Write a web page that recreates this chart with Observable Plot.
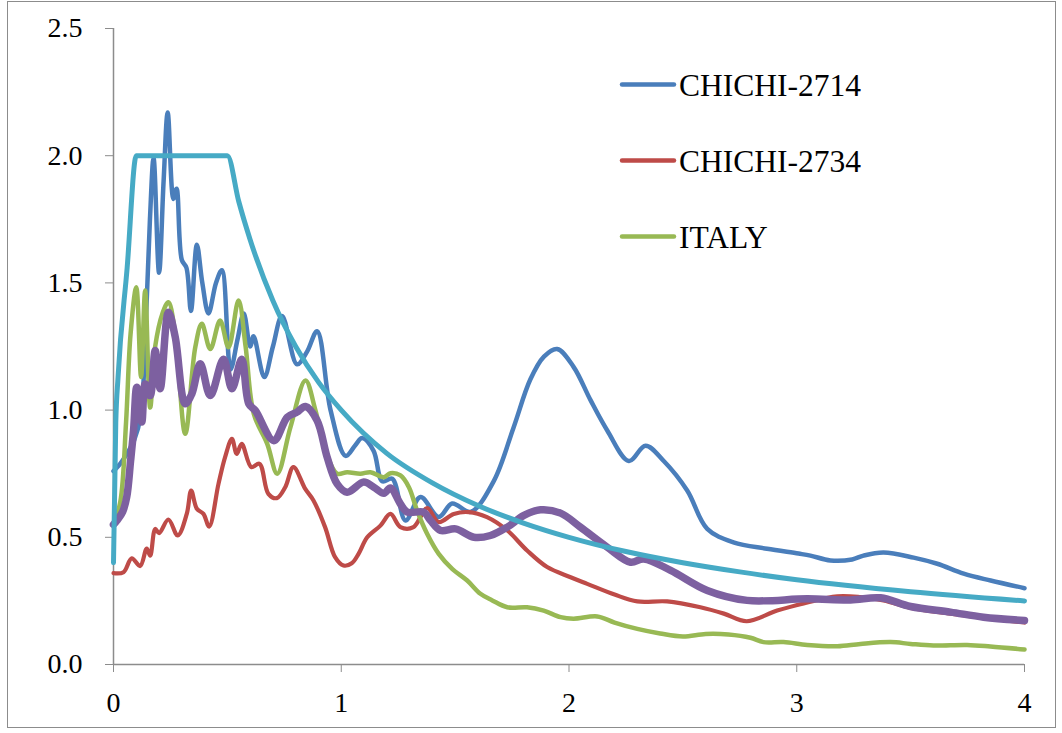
<!DOCTYPE html>
<html><head><meta charset="utf-8">
<script src="https://cdn.jsdelivr.net/npm/d3@7"></script>
<script src="https://cdn.jsdelivr.net/npm/@observablehq/plot@0.6"></script>
<style>
body{margin:0;background:#fff;}
#wrap{position:relative;width:1062px;height:733px;overflow:hidden;background:#fff;}
#frame{position:absolute;left:7px;top:1px;width:1047px;height:725px;border:1.5px solid #8c8c8c;pointer-events:none;}
#legend{position:absolute;left:0;top:0;pointer-events:none;}
</style></head>
<body>
<div id="wrap"><div id="frame"></div></div>
<script>
// ---- data (period in s, spectral value) ----
const xTicks = [0, 1, 2, 3, 4];
const yTicks = [0, 0.5, 1.0, 1.5, 2.0, 2.5];

const chichi2714 = [[0,0.76],[0.03,0.79],[0.06,0.83],[0.09,0.88],[0.12,0.98],[0.14,1.3],[0.16,1.75],[0.176,1.99],[0.2,1.54],[0.22,1.9],[0.238,2.17],[0.263,1.83],[0.277,1.87],[0.3,1.59],[0.32,1.56],[0.34,1.39],[0.366,1.65],[0.39,1.5],[0.417,1.38],[0.45,1.5],[0.476,1.55],[0.514,1.16],[0.545,1.28],[0.572,1.38],[0.6,1.25],[0.615,1.29],[0.662,1.13],[0.7,1.25],[0.74,1.37],[0.806,1.18],[0.85,1.23],[0.894,1.31],[0.953,1.0],[1.019,0.82],[1.06,0.86],[1.092,0.89],[1.142,0.84],[1.18,0.72],[1.224,0.73],[1.282,0.566],[1.348,0.658],[1.428,0.58],[1.487,0.633],[1.568,0.60],[1.669,0.72],[1.756,0.93],[1.83,1.12],[1.89,1.21],[1.948,1.24],[2.02,1.17],[2.094,1.04],[2.168,0.92],[2.263,0.80],[2.336,0.86],[2.416,0.80],[2.519,0.684],[2.607,0.533],[2.722,0.48],[2.87,0.455],[3.008,0.436],[3.06,0.428],[3.148,0.409],[3.243,0.413],[3.293,0.428],[3.381,0.44],[3.513,0.42],[3.617,0.396],[3.733,0.357],[3.851,0.33],[4.0,0.30]];

const chichi2734 = [[0,0.359],[0.044,0.363],[0.08,0.417],[0.117,0.387],[0.146,0.456],[0.161,0.428],[0.183,0.533],[0.2,0.516],[0.241,0.57],[0.282,0.507],[0.322,0.593],[0.341,0.684],[0.366,0.612],[0.395,0.592],[0.42,0.542],[0.461,0.71],[0.49,0.815],[0.52,0.887],[0.541,0.828],[0.563,0.867],[0.605,0.776],[0.641,0.789],[0.68,0.671],[0.717,0.654],[0.754,0.697],[0.79,0.776],[0.842,0.69],[0.878,0.645],[0.929,0.54],[0.973,0.422],[1.01,0.389],[1.046,0.398],[1.076,0.435],[1.114,0.5],[1.172,0.546],[1.216,0.592],[1.26,0.54],[1.317,0.54],[1.377,0.615],[1.428,0.56],[1.494,0.592],[1.56,0.599],[1.64,0.579],[1.729,0.527],[1.816,0.448],[1.904,0.383],[2.007,0.343],[2.08,0.317],[2.2,0.275],[2.3,0.248],[2.431,0.248],[2.577,0.225],[2.68,0.2],[2.78,0.17],[2.914,0.212],[3.03,0.24],[3.178,0.268],[3.28,0.265],[3.381,0.252],[3.513,0.22],[3.675,0.2],[3.85,0.18],[4.0,0.165]];

const italy = [[0,0.55],[0.03,0.64],[0.055,0.95],[0.075,1.3],[0.1,1.483],[0.121,1.13],[0.139,1.47],[0.161,1.01],[0.183,1.25],[0.215,1.38],[0.241,1.424],[0.271,1.3],[0.315,0.907],[0.359,1.247],[0.388,1.339],[0.425,1.24],[0.468,1.352],[0.505,1.247],[0.549,1.431],[0.58,1.25],[0.616,0.985],[0.675,0.867],[0.719,0.75],[0.777,0.933],[0.843,1.116],[0.887,0.998],[0.931,0.84],[0.982,0.75],[1.026,0.756],[1.084,0.75],[1.128,0.756],[1.187,0.736],[1.216,0.752],[1.26,0.743],[1.297,0.697],[1.333,0.605],[1.377,0.514],[1.428,0.435],[1.487,0.376],[1.553,0.33],[1.611,0.278],[1.663,0.252],[1.729,0.225],[1.816,0.225],[1.889,0.212],[1.963,0.186],[2.02,0.18],[2.124,0.189],[2.2,0.165],[2.3,0.14],[2.4,0.122],[2.5,0.11],[2.6,0.12],[2.7,0.118],[2.797,0.105],[2.854,0.088],[2.942,0.088],[3.046,0.077],[3.178,0.072],[3.28,0.081],[3.412,0.088],[3.5,0.081],[3.6,0.075],[3.748,0.077],[3.85,0.071],[4.0,0.059]];

const average = [[0,0.55],[0.015,0.566],[0.04,0.6],[0.058,0.658],[0.075,0.8],[0.088,0.92],[0.102,1.09],[0.124,0.953],[0.139,1.103],[0.161,1.057],[0.183,1.234],[0.205,1.084],[0.241,1.385],[0.271,1.287],[0.315,1.025],[0.344,1.064],[0.381,1.182],[0.425,1.057],[0.483,1.2],[0.52,1.084],[0.563,1.2],[0.594,1.025],[0.623,0.998],[0.704,0.88],[0.763,0.972],[0.806,0.992],[0.843,1.014],[0.894,0.959],[0.938,0.815],[0.982,0.71],[1.026,0.677],[1.099,0.717],[1.143,0.697],[1.187,0.673],[1.216,0.694],[1.26,0.631],[1.29,0.599],[1.362,0.599],[1.392,0.566],[1.436,0.527],[1.502,0.533],[1.582,0.50],[1.655,0.507],[1.729,0.54],[1.802,0.586],[1.875,0.608],[1.963,0.595],[2.05,0.54],[2.168,0.461],[2.27,0.402],[2.328,0.415],[2.446,0.37],[2.607,0.291],[2.782,0.252],[3.046,0.258],[3.236,0.254],[3.368,0.262],[3.5,0.228],[3.675,0.206],[3.82,0.186],[4.0,0.173]];

const design = [[0,0.4],[0.01,0.95],[0.02,1.13],[0.06,1.56],[0.1,2.0],[0.3,2.0],[0.5,2.0],[0.55,1.82],[0.6,1.67],[0.7,1.43],[0.8,1.25],[0.9,1.11],[1.0,1.0],[1.2,0.83],[1.4,0.714],[1.6,0.625],[1.8,0.556],[2.0,0.5],[2.25,0.444],[2.5,0.4],[2.75,0.364],[3.0,0.333],[3.5,0.286],[4.0,0.25]];

const legendLabels = ["CHICHI-2714", "CHICHI-2734", "ITALY"];
const legendColors = ["#4a7ebb", "#be4b48", "#98b954"];

// ---- chart ----
const lineOpts = (stroke, w, curve) => ({x: d => d[0], y: d => d[1], stroke, strokeWidth: w, curve, strokeLinecap: "round", strokeLinejoin: "round"});

const chart = Plot.plot({
  width: 1062, height: 733,
  marginLeft: 113, marginRight: 38, marginTop: 28, marginBottom: 69,
  x: {domain: [0, 4]},
  y: {domain: [0, 2.5]},
  style: {fontFamily: "'Liberation Serif', 'Times New Roman', serif", background: "transparent", color: "black"},
  marks: [
    Plot.ruleY([0], {stroke: "#8c8c8c", strokeWidth: 1.5}),
    Plot.ruleX([0], {stroke: "#8c8c8c", strokeWidth: 1.5}),
    Plot.axisY(yTicks, {tickSize: 8, tickPadding: 23, stroke: "#8c8c8c", fill: "black", tickFormat: d => d.toFixed(1), label: null, fontSize: 28}),
    Plot.axisX(xTicks, {tickSize: 8, tickPadding: 20, stroke: "#8c8c8c", fill: "black", tickFormat: d => String(d), label: null, fontSize: 28}),
    Plot.line(chichi2714, lineOpts("#4a7ebb", 4.5, "catmull-rom")),
    Plot.line(chichi2734, lineOpts("#be4b48", 4.2, "catmull-rom")),
    Plot.line(italy, lineOpts("#98b954", 4.5, "catmull-rom")),
    Plot.line(average, lineOpts("#7d60a0", 7.5, "catmull-rom")),
    Plot.line(design, lineOpts("#46aac5", 5, "monotone-x"))
  ]
});
const wrap = document.getElementById("wrap");
chart.style.position = "absolute";
chart.style.left = "0px";
chart.style.top = "0px";
wrap.insertBefore(chart, wrap.firstChild);

// ---- legend (inside plot, top right) ----
const leg = d3.select(wrap).append("svg").attr("id", "legend").attr("width", 1062).attr("height", 733);
const items = leg.selectAll("g").data(legendLabels).join("g")
  .attr("transform", (d, i) => `translate(620, ${84.5 + i * 76})`);
items.append("line").attr("x1", 2).attr("x2", 54).attr("y1", 0).attr("y2", 0)
  .attr("stroke", (d, i) => legendColors[i]).attr("stroke-width", 4.5).attr("stroke-linecap", "round");
items.append("text").attr("x", 59).attr("y", 11)
  .attr("font-family", "'Liberation Serif', 'Times New Roman', serif").attr("font-size", 31.5)
  .attr("fill", "black").text(d => d);
</script>
</body></html>
